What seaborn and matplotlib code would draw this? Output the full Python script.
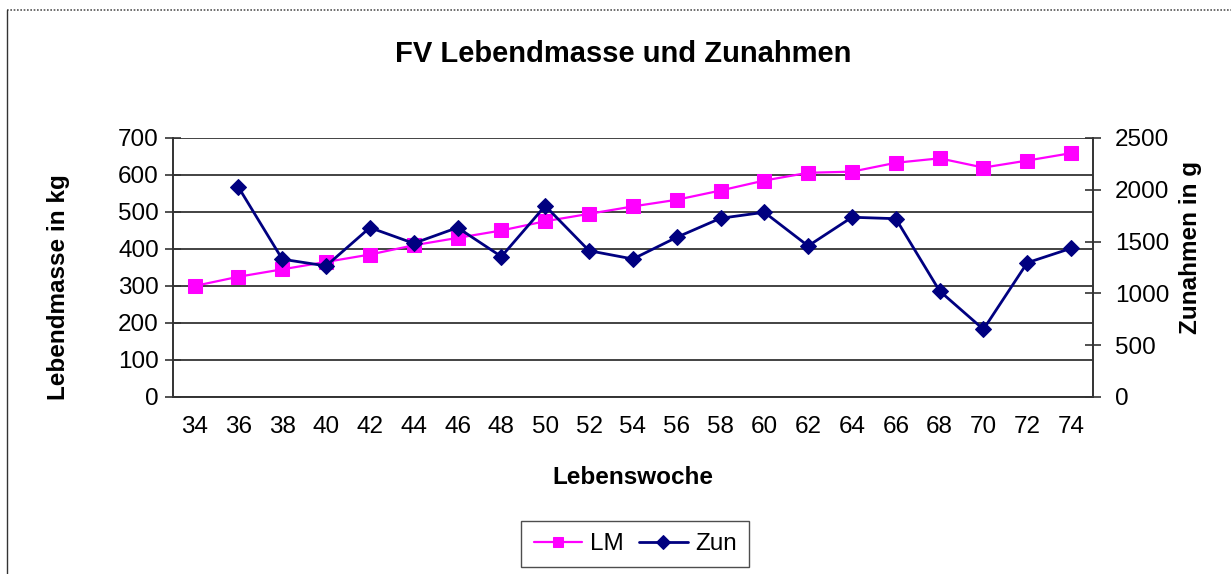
#!/usr/bin/env python3
"""FV Lebendmasse und Zunahmen - line chart with two y axes."""
import numpy as np
import pandas as pd
import seaborn as sns
import matplotlib.pyplot as plt
from matplotlib.lines import Line2D

# data
weeks = [34, 36, 38, 40, 42, 44, 46, 48, 50, 52, 54, 56, 58, 60, 62, 64, 66, 68, 70, 72, 74]
lm = [300, 325, 345, 365, 385, 410, 430, 450, 475, 495, 515, 533, 558, 585, 606, 609, 633, 645, 620, 639, 659]
zun = [np.nan, 2025, 1330, 1265, 1635, 1483, 1635, 1355, 1845, 1412, 1332, 1541, 1725, 1783,
       1458, 1735, 1721, 1023, 653, 1296, 1435]

left_ticks = [0, 100, 200, 300, 400, 500, 600, 700]
right_ticks = [0, 500, 1000, 1500, 2000, 2500]

sns.set_style("white")
plt.rcParams['font.family'] = ['Liberation Sans', 'DejaVu Sans']
plt.rcParams['text.color'] = 'black'
plt.rcParams['axes.labelcolor'] = 'black'
plt.rcParams['xtick.color'] = 'black'
plt.rcParams['ytick.color'] = 'black'

df = pd.DataFrame({"week": weeks, "LM": lm, "Zun": zun})
df_zun = df.dropna(subset=["Zun"])

fig = plt.figure(figsize=(12.31, 5.74), dpi=100)
ax = fig.add_axes([0.1403, 0.3084, 0.8879 - 0.1403, 0.7596 - 0.3084])
ax2 = ax.twinx()

# LM on the left axis
sns.lineplot(data=df, x="week", y="LM", ax=ax, color="#ff00ff", linewidth=1.6,
             marker="s", markersize=10.5, markeredgecolor="#ff00ff", label="LM")
# Zun on the right axis
sns.lineplot(data=df_zun, x="week", y="Zun", ax=ax2, color="#000080", linewidth=2.0,
             marker="D", markersize=8.5, markeredgecolor="#000080", label="Zun")

ax.set_xlim(33, 75)
ax.set_ylim(0, 700)
ax2.set_ylim(0, 2500)
ax.set_yticks(left_ticks)
ax2.set_yticks(right_ticks)
ax.set_xticks(weeks)
ax.set_xticks(np.arange(33, 76, 2), minor=True)
ax.tick_params(axis="x", which="major", length=0, pad=14, labelsize=17.5)
ax.tick_params(axis="x", which="minor", length=12, width=1.2, direction="inout", color="#333333")
ax.tick_params(axis="y", length=12, width=1.2, direction="inout", pad=4, labelsize=17.5, color="#333333")
ax2.tick_params(axis="y", length=12, width=1.2, direction="inout", pad=10, labelsize=17.5, color="#333333")

# horizontal gridlines
ax.grid(axis="y", color="#222222", linewidth=1.2)
ax.grid(axis="x", visible=False)
ax2.grid(False)

for a in (ax, ax2):
    a.spines["top"].set_visible(False)
    for s in ("left", "right", "bottom"):
        a.spines[s].set_color("#333333")
        a.spines[s].set_linewidth(1.2)

ax.set_xlabel("Lebenswoche", fontsize=17.5, fontweight="bold", labelpad=20)
ax.set_ylabel("Lebendmasse in kg", fontsize=17.5, fontweight="bold")
ax2.set_ylabel("Zunahmen in g", fontsize=17.5, fontweight="bold")
ax.yaxis.set_label_coords(-0.112, 0.425)
ax2.yaxis.set_label_coords(1.093, 0.579)

fig.text(0.506, 0.906, "FV Lebendmasse und Zunahmen", ha="center", va="center",
         fontsize=21, fontweight="bold")

# legend at the bottom
h1, l1 = ax.get_legend_handles_labels()
h2, l2 = ax2.get_legend_handles_labels()
ax.get_legend().remove()
ax2.get_legend().remove()
leg = fig.legend(h1 + h2, l1 + l2, loc="center", bbox_to_anchor=(0.516, 0.052), ncol=2,
                 fontsize=17.5, frameon=True, fancybox=False, handlelength=2.0,
                 columnspacing=0.65, handletextpad=0.3, borderpad=0.5)
leg.get_frame().set_edgecolor("#222222")
leg.get_frame().set_linewidth(1.0)
for h in leg.legend_handles:
    h.set_markersize(7)

# outer chart border (top and left visible in the reference)
fig.add_artist(Line2D([0.0057, 1.0], [0.982, 0.982], transform=fig.transFigure,
                      color="#555555", linewidth=1.2, linestyle=(0, (1, 1))))
fig.add_artist(Line2D([0.0057, 0.0057], [0.0, 0.982], transform=fig.transFigure,
                      color="#333333", linewidth=1.0))

fig.savefig("out.png", dpi=100)
plt.close(fig)
